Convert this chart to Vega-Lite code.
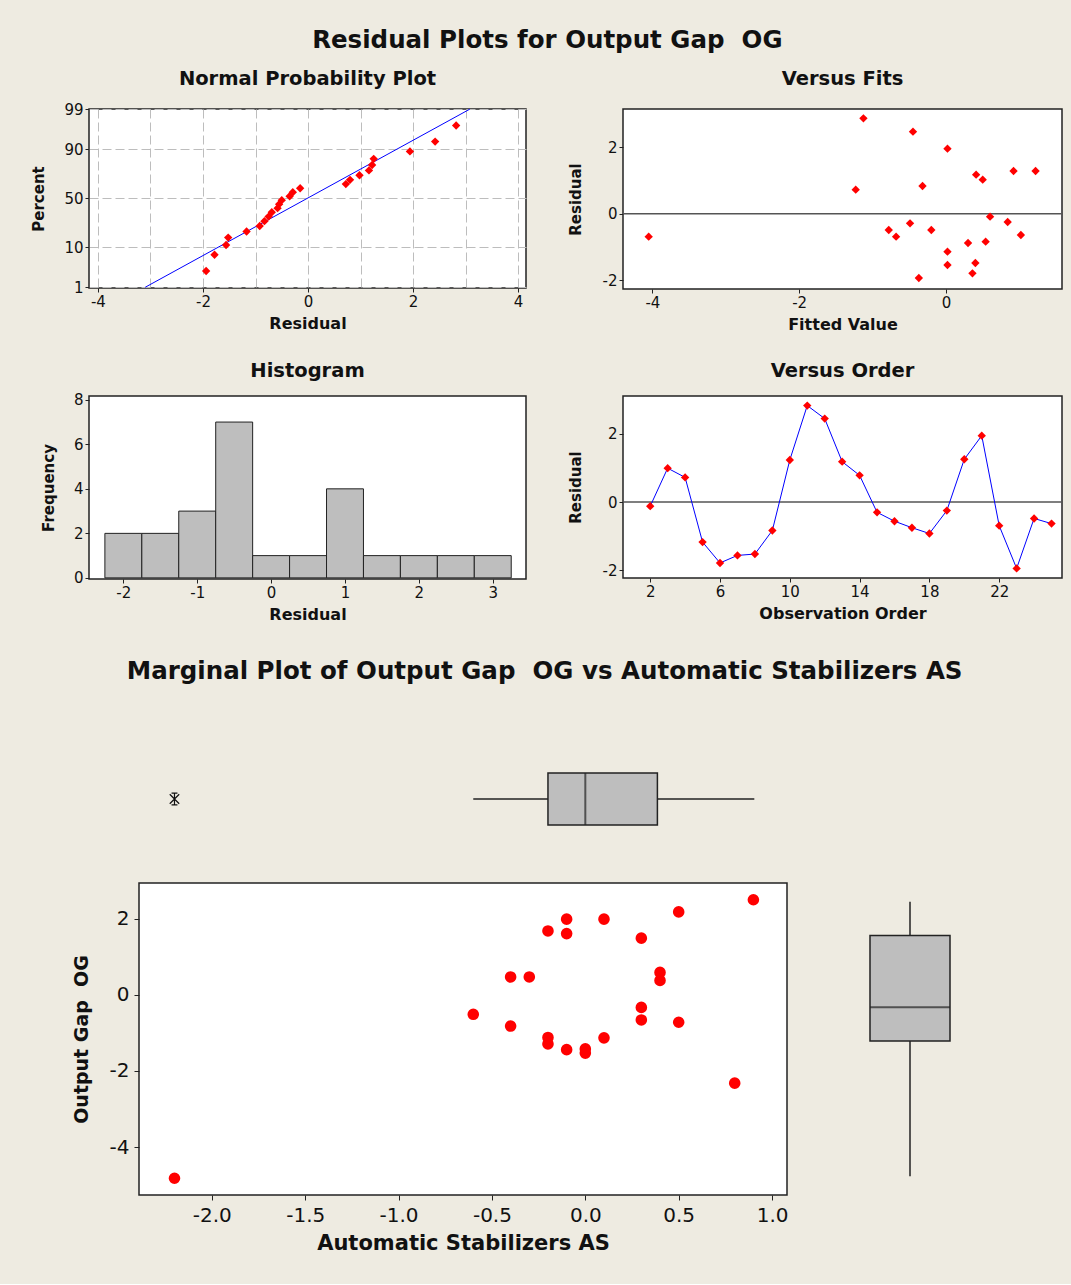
{
 "$schema": "https://vega.github.io/schema/vega-lite/v6.json",
 "background": "#EEEBE1",
 "padding": {"left": 31, "top": 28, "right": 10, "bottom": 30},
 "config": {
  "font": "DejaVu Sans",
  "view": {"stroke": "#222222", "strokeWidth": 1.5, "fill": "#FFFFFF"},
  "axis": {"labelFont": "DejaVu Sans", "labelFontSize": 15, "labelColor": "#111111", "titleFont": "DejaVu Sans", "titleFontSize": 16, "titleFontWeight": "bold", "titleColor": "#111111", "domain": false, "grid": false, "tickColor": "#222222", "tickSize": 4, "labelPadding": 2},
  "title": {"font": "DejaVu Sans", "fontWeight": "bold", "color": "#111111", "anchor": "middle"}
 },
 "datasets": {
  "normal": [
   {"residual": -1.94, "score": -1.900}, {"residual": -1.78, "score": -1.478}, {"residual": -1.56, "score": -1.223},
   {"residual": -1.52, "score": -1.029}, {"residual": -1.17, "score": -0.868}, {"residual": -0.92, "score": -0.727},
   {"residual": -0.83, "score": -0.599}, {"residual": -0.75, "score": -0.480}, {"residual": -0.69, "score": -0.368},
   {"residual": -0.58, "score": -0.260}, {"residual": -0.55, "score": -0.155}, {"residual": -0.50, "score": -0.051},
   {"residual": -0.35, "score": 0.051}, {"residual": -0.29, "score": 0.155}, {"residual": -0.15, "score": 0.260},
   {"residual": 0.72, "score": 0.368}, {"residual": 0.80, "score": 0.480}, {"residual": 0.98, "score": 0.599},
   {"residual": 1.16, "score": 0.727}, {"residual": 1.22, "score": 0.868}, {"residual": 1.25, "score": 1.029},
   {"residual": 1.94, "score": 1.223}, {"residual": 2.42, "score": 1.478}, {"residual": 2.82, "score": 1.900}
  ],
  "npline": [{"residual": -3.1, "score": -2.326}, {"residual": 3.08, "score": 2.326}],
  "fits": [
   {"fit": -1.125, "residual": 2.86}, {"fit": -1.23, "residual": 0.72}, {"fit": -0.45, "residual": 2.46},
   {"fit": 0.02, "residual": 1.95}, {"fit": -0.32, "residual": 0.83}, {"fit": 0.41, "residual": 1.17},
   {"fit": 0.50, "residual": 1.02}, {"fit": 0.92, "residual": 1.28}, {"fit": 1.22, "residual": 1.28},
   {"fit": 0.60, "residual": -0.09}, {"fit": 0.84, "residual": -0.25}, {"fit": 1.02, "residual": -0.64},
   {"fit": -0.78, "residual": -0.49}, {"fit": -0.68, "residual": -0.69}, {"fit": -0.49, "residual": -0.29},
   {"fit": -0.20, "residual": -0.49}, {"fit": 0.30, "residual": -0.88}, {"fit": 0.54, "residual": -0.84},
   {"fit": 0.02, "residual": -1.14}, {"fit": 0.02, "residual": -1.54}, {"fit": 0.40, "residual": -1.48},
   {"fit": 0.36, "residual": -1.79}, {"fit": -0.37, "residual": -1.93}, {"fit": -4.05, "residual": -0.69}
  ],
  "hist": [
   {"bin_start": -2.25, "bin_end": -1.75, "count": 2}, {"bin_start": -1.75, "bin_end": -1.25, "count": 2},
   {"bin_start": -1.25, "bin_end": -0.75, "count": 3}, {"bin_start": -0.75, "bin_end": -0.25, "count": 7},
   {"bin_start": -0.25, "bin_end": 0.25, "count": 1}, {"bin_start": 0.25, "bin_end": 0.75, "count": 1},
   {"bin_start": 0.75, "bin_end": 1.25, "count": 4}, {"bin_start": 1.25, "bin_end": 1.75, "count": 1},
   {"bin_start": 1.75, "bin_end": 2.25, "count": 1}, {"bin_start": 2.25, "bin_end": 2.75, "count": 1},
   {"bin_start": 2.75, "bin_end": 3.25, "count": 1}
  ],
  "order": [
   {"order": 2, "residual": -0.12}, {"order": 3, "residual": 0.99}, {"order": 4, "residual": 0.72},
   {"order": 5, "residual": -1.17}, {"order": 6, "residual": -1.78}, {"order": 7, "residual": -1.56},
   {"order": 8, "residual": -1.52}, {"order": 9, "residual": -0.83}, {"order": 10, "residual": 1.23},
   {"order": 11, "residual": 2.82}, {"order": 12, "residual": 2.44}, {"order": 13, "residual": 1.18},
   {"order": 14, "residual": 0.78}, {"order": 15, "residual": -0.30}, {"order": 16, "residual": -0.56},
   {"order": 17, "residual": -0.75}, {"order": 18, "residual": -0.92}, {"order": 19, "residual": -0.25},
   {"order": 20, "residual": 1.25}, {"order": 21, "residual": 1.94}, {"order": 22, "residual": -0.69},
   {"order": 23, "residual": -1.94}, {"order": 24, "residual": -0.48}, {"order": 25, "residual": -0.63}
  ],
  "marginal": [
   {"AS": -2.2, "OG": -4.82}, {"AS": -0.6, "OG": -0.51}, {"AS": -0.4, "OG": 0.47}, {"AS": -0.3, "OG": 0.47},
   {"AS": -0.4, "OG": -0.82}, {"AS": -0.2, "OG": 1.68}, {"AS": -0.2, "OG": -1.12}, {"AS": -0.2, "OG": -1.29},
   {"AS": -0.1, "OG": 1.99}, {"AS": -0.1, "OG": 1.61}, {"AS": -0.1, "OG": -1.44}, {"AS": 0.0, "OG": -1.42},
   {"AS": 0.0, "OG": -1.53}, {"AS": 0.1, "OG": 1.99}, {"AS": 0.1, "OG": -1.13}, {"AS": 0.3, "OG": 1.49},
   {"AS": 0.3, "OG": -0.33}, {"AS": 0.3, "OG": -0.66}, {"AS": 0.4, "OG": 0.59}, {"AS": 0.4, "OG": 0.38},
   {"AS": 0.5, "OG": 2.18}, {"AS": 0.5, "OG": -0.72}, {"AS": 0.8, "OG": -2.32}, {"AS": 0.9, "OG": 2.50}
  ],
  "boxAS": [{"var": "AS", "lower": -0.6, "q1": -0.2, "median": 0.0, "q3": 0.386, "upper": 0.905}],
  "outAS": [{"var": "AS", "value": -2.2}],
  "boxOG": [{"var": "OG", "lower": -4.77, "q1": -1.21, "median": -0.325, "q3": 1.56, "upper": 2.45}]
 },
 "columns": 1,
 "spacing": 35,
 "concat": [
  {
   "title": {"text": "Residual Plots for Output Gap \u00a0OG", "fontSize": 24.5, "offset": 14},
   "columns": 2,
   "spacing": {"row": 26, "column": 40},
   "concat": [
    {
     "title": {"text": "Normal Probability Plot", "fontSize": 19.5, "offset": 13, "frame": "group"},
     "width": 437, "height": 179,
     "layer": [
      {
       "data": {"name": "npline"},
       "mark": {"type": "line", "color": "#0000FF", "strokeWidth": 1},
       "encoding": {
        "x": {"field": "residual", "type": "quantitative", "scale": {"domain": [-4.17, 4.15], "nice": false, "zero": false},
              "axis": {"title": "Residual", "values": [-4, -3, -2, -1, 0, 1, 2, 3, 4], "grid": true, "gridDash": [9, 4], "gridColor": "#BDBDBD", "gridWidth": 1,
                       "labelExpr": "datum.value % 2 == 0 ? replace(format(datum.value, 'd'), '\u2212', '-') : ''",
                       "tickOpacity": {"condition": {"test": "datum.value % 2 != 0", "value": 0}, "value": 1}, "titlePadding": 6}},
        "y": {"field": "score", "type": "quantitative", "scale": {"domain": [-2.345, 2.33], "nice": false, "zero": false},
              "axis": {"title": "Percent", "titleFontSize": 15, "values": [-2.326, -1.2816, 0, 1.2816, 2.326], "grid": true, "gridDash": [9, 4], "gridColor": "#BDBDBD", "gridWidth": 1,
                       "labelExpr": "datum.value < -2 ? '1' : datum.value < -1 ? '10' : datum.value < 1 ? '50' : datum.value < 2 ? '90' : '99'", "titlePadding": 17}}
       }
      },
      {
       "data": {"name": "normal"},
       "mark": {"type": "point", "shape": "diamond", "filled": true, "color": "#FF0000", "size": 70, "opacity": 1},
       "encoding": {
        "x": {"field": "residual", "type": "quantitative"},
        "y": {"field": "score", "type": "quantitative"}
       }
      }
     ]
    },
    {
     "title": {"text": "Versus Fits", "fontSize": 19.5, "offset": 20, "frame": "group"},
     "width": 439, "height": 180,
     "layer": [
      {
       "data": {"values": [{}]},
       "mark": {"type": "rule", "color": "#555555", "strokeWidth": 1.5},
       "encoding": {"y": {"datum": 0, "type": "quantitative"}}
      },
      {
       "data": {"name": "fits"},
       "mark": {"type": "point", "shape": "diamond", "filled": true, "color": "#FF0000", "size": 70, "opacity": 1},
       "encoding": {
        "x": {"field": "fit", "type": "quantitative", "scale": {"domain": [-4.4, 1.58], "nice": false, "zero": false},
              "axis": {"title": "Fitted Value", "values": [-4, -2, 0], "labelExpr": "replace(format(datum.value, 'd'), '\u2212', '-')", "titlePadding": 6}},
        "y": {"field": "residual", "type": "quantitative", "scale": {"domain": [-2.26, 3.14], "nice": false, "zero": false},
              "axis": {"title": "Residual", "titleFontSize": 15, "values": [-2, 0, 2], "labelExpr": "replace(format(datum.value, 'd'), '\u2212', '-')", "titlePadding": 19}}
       }
      }
     ]
    },
    {
     "title": {"text": "Histogram", "fontSize": 19.5, "offset": 11, "frame": "group"},
     "width": 437, "height": 183,
     "data": {"name": "hist"},
     "mark": {"type": "bar", "color": "#BEBEBE", "stroke": "#222222", "strokeWidth": 1},
     "encoding": {
      "x": {"field": "bin_start", "type": "quantitative", "scale": {"domain": [-2.465, 3.45], "nice": false, "zero": false},
            "axis": {"title": "Residual", "values": [-2, -1, 0, 1, 2, 3], "labelExpr": "replace(format(datum.value, 'd'), '\u2212', '-')", "titlePadding": 6}},
      "x2": {"field": "bin_end"},
      "y": {"field": "count", "type": "quantitative", "scale": {"domain": [-0.05, 8.17], "nice": false, "zero": false},
            "axis": {"title": "Frequency", "titleFontSize": 15, "values": [0, 2, 4, 6, 8], "titlePadding": 17}},
      "y2": {"datum": 0}
     }
    },
    {
     "title": {"text": "Versus Order", "fontSize": 19.5, "offset": 15, "frame": "group"},
     "width": 439, "height": 182,
     "layer": [
      {
       "data": {"values": [{}]},
       "mark": {"type": "rule", "color": "#555555", "strokeWidth": 1.5},
       "encoding": {"y": {"datum": 0, "type": "quantitative"}}
      },
      {
       "data": {"name": "order"},
       "mark": {"type": "line", "color": "#0000FF", "strokeWidth": 1},
       "encoding": {
        "x": {"field": "order", "type": "quantitative", "scale": {"domain": [0.44, 25.6], "nice": false, "zero": false},
              "axis": {"title": "Observation Order", "values": [2, 4, 6, 8, 10, 12, 14, 16, 18, 20, 22, 24], "titlePadding": 6}},
        "y": {"field": "residual", "type": "quantitative", "scale": {"domain": [-2.22, 3.1], "nice": false, "zero": false},
              "axis": {"title": "Residual", "titleFontSize": 15, "values": [-2, 0, 2], "labelExpr": "replace(format(datum.value, 'd'), '\u2212', '-')", "titlePadding": 19}}
       }
      },
      {
       "data": {"name": "order"},
       "mark": {"type": "point", "shape": "diamond", "filled": true, "color": "#FF0000", "size": 70, "opacity": 1},
       "encoding": {
        "x": {"field": "order", "type": "quantitative"},
        "y": {"field": "residual", "type": "quantitative"}
       }
      }
     ]
    }
   ]
  },
  {
   "title": {"text": "Marginal Plot of Output Gap \u00a0OG vs Automatic Stabilizers AS", "fontSize": 24.5, "offset": 65},
   "columns": 3,
   "bounds": "flush",
   "spacing": {"row": 34, "column": 23},
   "concat": [
    {
     "width": 27, "height": 100,
     "view": {"stroke": null, "fill": null},
     "data": {"values": [{}]},
     "mark": {"type": "text", "text": ""},
     "encoding": {}
    },
    {
     "width": 648, "height": 100,
     "view": {"stroke": null, "fill": null},
     "layer": [
      {
       "data": {"name": "boxAS"},
       "mark": {"type": "rule", "color": "#222222", "strokeWidth": 1.5},
       "encoding": {
        "x": {"field": "lower", "type": "quantitative", "scale": {"domain": [-2.39, 1.08], "nice": false, "zero": false}, "axis": null},
        "x2": {"field": "upper"},
        "y": {"field": "var", "type": "nominal", "axis": null}
       }
      },
      {
       "data": {"name": "boxAS"},
       "mark": {"type": "bar", "size": 52, "color": "#BEBEBE", "stroke": "#222222", "strokeWidth": 1.5},
       "encoding": {
        "x": {"field": "q1", "type": "quantitative"},
        "x2": {"field": "q3"},
        "y": {"field": "var", "type": "nominal"}
       }
      },
      {
       "data": {"name": "boxAS"},
       "mark": {"type": "tick", "size": 52, "thickness": 2, "color": "#222222"},
       "encoding": {
        "x": {"field": "median", "type": "quantitative"},
        "y": {"field": "var", "type": "nominal"}
       }
      },
      {
       "data": {"name": "outAS"},
       "mark": {"type": "point", "shape": "M-0.8,-0.8L0.8,0.8M-0.8,0.8L0.8,-0.8M0,-1L0,1M-0.5,-1L0.5,-1M-0.5,1L0.5,1", "filled": false, "stroke": "#111111", "strokeWidth": 1.2, "size": 140, "opacity": 1},
       "encoding": {
        "x": {"field": "value", "type": "quantitative"},
        "y": {"field": "var", "type": "nominal"}
       }
      }
     ]
    },
    {
     "width": 208, "height": 100,
     "view": {"stroke": null, "fill": null},
     "data": {"values": [{}]},
     "mark": {"type": "text", "text": ""},
     "encoding": {}
    },
    {
     "width": 27, "height": 1,
     "view": {"stroke": null, "fill": null},
     "data": {"values": [{}]},
     "mark": {"type": "text", "text": ""},
     "encoding": {}
    },
    {
     "width": 648, "height": 312,
     "data": {"name": "marginal"},
     "mark": {"type": "circle", "color": "#FF0000", "size": 135, "opacity": 1},
     "encoding": {
      "x": {"field": "AS", "type": "quantitative", "scale": {"domain": [-2.39, 1.08], "nice": false, "zero": false},
            "axis": {"title": "Automatic Stabilizers AS", "titleFontSize": 21, "labelFontSize": 20, "tickSize": 5, "labelPadding": 5, "titlePadding": 7,
                     "values": [-2, -1.5, -1, -0.5, 0, 0.5, 1], "labelExpr": "replace(format(datum.value, '.1f'), '\u2212', '-')"}},
      "y": {"field": "OG", "type": "quantitative", "scale": {"domain": [-5.26, 2.94], "nice": false, "zero": false},
            "axis": {"title": "Output Gap \u00a0OG", "titleFontSize": 19, "labelFontSize": 20, "tickSize": 5, "labelPadding": 5, "titlePadding": 18,
                     "values": [-4, -2, 0, 2], "labelExpr": "replace(format(datum.value, 'd'), '\u2212', '-')"}}
     }
    },
    {
     "width": 200, "height": 312,
     "view": {"stroke": null, "fill": null},
     "layer": [
      {
       "data": {"name": "boxOG"},
       "mark": {"type": "rule", "color": "#222222", "strokeWidth": 1.5},
       "encoding": {
        "x": {"field": "var", "type": "nominal", "axis": null},
        "y": {"field": "lower", "type": "quantitative", "scale": {"domain": [-5.26, 2.94], "nice": false, "zero": false}, "axis": null},
        "y2": {"field": "upper"}
       }
      },
      {
       "data": {"name": "boxOG"},
       "mark": {"type": "bar", "size": 80, "color": "#BEBEBE", "stroke": "#222222", "strokeWidth": 1.5},
       "encoding": {
        "x": {"field": "var", "type": "nominal"},
        "y": {"field": "q1", "type": "quantitative"},
        "y2": {"field": "q3"}
       }
      },
      {
       "data": {"name": "boxOG"},
       "mark": {"type": "tick", "size": 80, "thickness": 2, "color": "#222222"},
       "encoding": {
        "x": {"field": "var", "type": "nominal"},
        "y": {"field": "median", "type": "quantitative"}
       }
      }
     ]
    }
   ]
  }
 ]
}
